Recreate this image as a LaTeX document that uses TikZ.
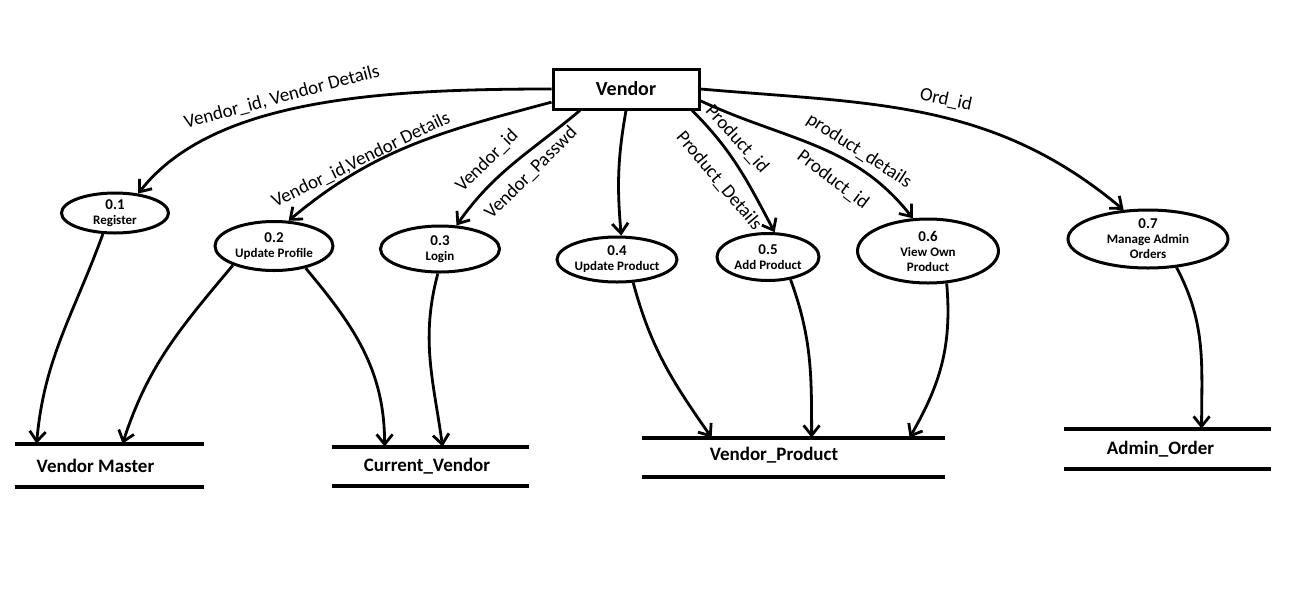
\documentclass[tikz,border=0pt]{standalone}
\usepackage{fontspec}
\setmainfont{Carlito}
\usetikzlibrary{shapes, arrows.meta, positioning}

\newcommand{\procid}[1]{{\fontsize{7.5}{8}\selectfont #1}}

\begin{document}
\begin{tikzpicture}[x=0.5pt, y=0.5pt,
    entity/.style={draw, line width=1.5pt, minimum width=73pt, minimum height=20pt, font=\bfseries\fontsize{10}{12}\selectfont},
    proc/.style={ellipse, draw, line width=1.5pt, inner sep=0pt, align=center, font=\bfseries\fontsize{6.5}{7.5}\selectfont},
    store/.style={inner sep=0pt, minimum height=20pt},
    storeline/.style={line width=2pt},
    storetext/.style={font=\bfseries\fontsize{9.5}{11}\selectfont},
    flow/.style={line width=1.4pt, -{Straight Barb[length=5pt, width=8pt]}},
    lbl/.style={font=\fontsize{9.5}{11}\selectfont, inner sep=0pt}]
  \useasboundingbox (0,0) rectangle (1302,-606);

  % Entidad externa
  \node[entity] (v) at (626,-89) {Vendor};

  % Procesos
  \node[proc, minimum width=53.5pt, minimum height=20pt] (p1) at (115,-213) {\procid{0.1}\\Register};
  \node[proc, minimum width=59pt, minimum height=24.5pt] (p2) at (274,-246) {\procid{0.2}\\Update Profile};
  \node[proc, minimum width=59.5pt, minimum height=23pt] (p3) at (440,-249) {\procid{0.3}\\Login};
  \node[proc, minimum width=55pt, minimum height=22.5pt] (p4) at (617,-259.5) {\procid{0.4}\\Update Product};
  \node[proc, minimum width=51pt, minimum height=23.5pt] (p5) at (768,-257) {\procid{0.5}\\Add Product};
  \node[proc, minimum width=70.5pt, minimum height=32pt] (p6) at (928,-251) {\procid{0.6}\\View Own\\Product};
  \node[proc, minimum width=80pt, minimum height=29pt] (p7) at (1148,-239) {\procid{0.7}\\Manage Admin\\Orders};

  % Almacenes de datos
  \node[store, minimum width=94.5pt, minimum height=21.5pt, label={[storetext, xshift=-7pt]center:Vendor Master}] (vm) at (109.5,-465.5) {};
  \node[store, minimum width=98.5pt, minimum height=19.5pt, label={[storetext, xshift=-1.75pt]center:Current\_Vendor}] (cv) at (430.5,-466.5) {};
  \node[store, minimum width=151.5pt, minimum height=19.5pt, label={[storetext, xshift=-9.75pt, yshift=1.25pt]center:Vendor\_Product}] (vp) at (793.5,-457.5) {};
  \node[store, minimum width=103.5pt, minimum height=20pt, label={[storetext, xshift=-3.5pt]center:Admin\_Order}] (ao) at (1167.5,-449) {};
  \foreach \s in {vm,cv,vp,ao} {
    \draw[storeline] (\s.north west) -- (\s.north east) (\s.south west) -- (\s.south east);
  }

  % Flujos desde la entidad
  \draw[flow] (v.west) to[out=180, in=52, out distance=86pt, in distance=60pt] (p1.40);
  \draw[flow] (v.190) to[out=195, in=40] (p2.60);
  \draw[flow] (v.205) to[out=220, in=55] (p3.55);
  \draw[flow] (v.south) to[out=260, in=95] (p4.80);
  \draw[flow] (v.342) to[out=-45, in=118] (p5.75);
  \draw[flow] (v.351) to[out=-25, in=128] (p6.115);
  \draw[flow] (v.east) to[out=-5, in=140] (p7.130);

  % Flujos hacia los almacenes
  \draw[flow] (p1.240) to[out=250, in=85] ([xshift=11pt]vm.north west);
  \draw[flow] (p2.205) to[out=230, in=72] ([xshift=54pt]vm.north west);
  \draw[flow] (p2.325) to[out=-50, in=90] ([xshift=26.5pt]cv.north west);
  \draw[flow] (p3.265) to[out=255, in=98] ([xshift=55.5pt]cv.north west);
  \draw[flow] (p4.305) to[out=-75, in=125] ([xshift=35pt]vp.north west);
  \draw[flow] (p5.315) to[out=-70, in=90] ([xshift=85pt]vp.north west);
  \draw[flow] (p6.300) to[out=-85, in=60] ([xshift=134pt]vp.north west);
  \draw[flow] (p7.315) to[out=-62, in=90] ([xshift=69pt]ao.north west);

  % Etiquetas de los flujos
  \node[lbl, rotate=15] (l1) at (282,-97) {Vendor\_id, Vendor Details};
  \node[lbl, rotate=26] (l2) at (361,-160) {Vendor\_id,Vendor Details};
  \node[lbl, rotate=45] (l3) at (487,-161) {Vendor\_id};
  \node[lbl, rotate=45] (l4) at (531,-173) {Vendor\_Passwd};
  \node[lbl, rotate=-48] (l5) at (737,-139) {Product\_id};
  \node[lbl, rotate=-50] (l6) at (719,-181) {Product\_Details};
  \node[lbl, rotate=-33] (l7) at (859,-151) {product\_details};
  \node[lbl, rotate=-37] (l8) at (833,-180) {Product\_id};
  \node[lbl, rotate=-12] (l9) at (946,-100) {Ord\_id};
\end{tikzpicture}
\end{document}
